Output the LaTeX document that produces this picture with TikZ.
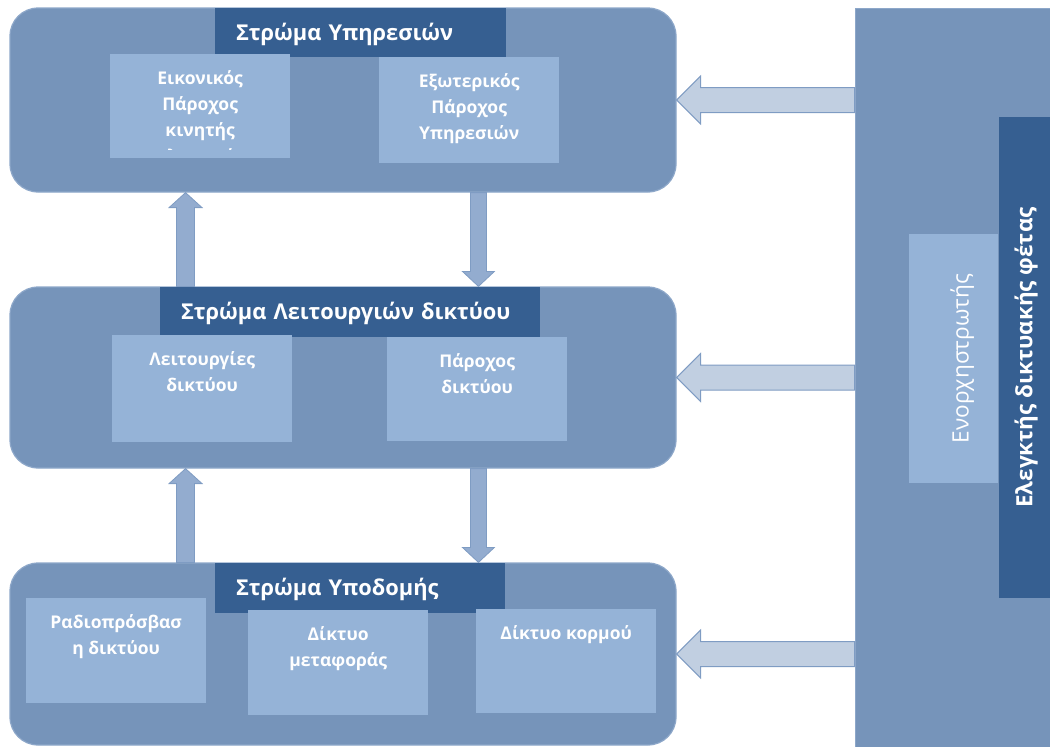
\documentclass[tikz,border=0pt]{standalone}
\usepackage{fontspec}
\setmainfont{Open Sans}
\usetikzlibrary{calc}

\definecolor{layerblue}{HTML}{7694BA}
\definecolor{layeredge}{HTML}{8DA7C9}
\definecolor{titleblue}{HTML}{365F91}
\definecolor{cellblue}{HTML}{95B3D7}
\definecolor{harrowfill}{HTML}{C1CFE1}
\definecolor{varrowfill}{HTML}{93ACCF}
\definecolor{arrowedge}{HTML}{7F9CC3}

% top-aligned, centred text block of a cell
\newcommand\cellbody[2]{\parbox[c][#1][t]{180pt}{\centering\vspace*{16pt}#2}}

% block arrow: style, start, tip, shaft half-width, head half-width, head length
\newcommand\blockarrow[6]{%
  \path ($(#3)!#6!(#2)$) coordinate (ba-base);
  \draw[#1] ($(#2)!#4!90:(#3)$) -- ($(ba-base)!#4!90:(#3)$)
    -- ($(ba-base)!#5!90:(#3)$) -- (#3) -- ($(ba-base)!#5!-90:(#3)$)
    -- ($(ba-base)!#4!-90:(#3)$) -- ($(#2)!#4!-90:(#3)$) -- cycle;}

\tikzset{
  layer/.style={rectangle, rounded corners=28pt, fill=layerblue, draw=layeredge,
    line width=1.2pt, minimum width=666pt, inner sep=0pt},
  panel/.style={rectangle, fill=layerblue, draw=layeredge, line width=1pt, inner sep=0pt},
  title/.style={rectangle, fill=titleblue, inner xsep=21pt, inner ysep=0pt, text=white,
    font=\fontsize{21.8}{26}\selectfont\bfseries, align=left, text height=15.5pt, text depth=0pt},
  cell/.style={rectangle, fill=cellblue, inner sep=0pt, anchor=north west, text=white,
    font=\fontsize{17.5}{26}\selectfont\bfseries},
  harrow/.style={fill=harrowfill, draw=arrowedge, line width=1pt, line join=miter},
  varrow/.style={fill=varrowfill, draw=arrowedge, line width=0.8pt, line join=miter},
}

\begin{document}
\begin{tikzpicture}[x=1pt, y=-1pt]
\useasboundingbox (0,0) rectangle (1050,747);

% the three layers
\node[layer, minimum height=184pt] (svc) at (343,100) {};
\node[layer, minimum height=181pt] (fun) at (343,377.5) {};
\node[layer, minimum height=182pt] (inf) at (343,654) {};

% slice controller column
\node[panel, minimum width=196pt, minimum height=740pt] (ctrl) at (953,378) {};
\node[rectangle, fill=cellblue, inner sep=0pt, rotate=90, minimum width=249pt,
  minimum height=89pt, text=white, font=\fontsize{22.6}{28}\selectfont,
  text height=30pt, text depth=0pt] (orch) at (953.5,358.5) {Ενορχηστρωτής};
\node[title, rotate=90, inner xsep=0pt, minimum width=481pt, minimum height=51pt,
  align=center, font=\fontsize{22.4}{28}\selectfont\bfseries] (slice) at (1024.5,357.5)
  {Ελεγκτής δικτυακής φέτας};

% layer titles
\node[title, text width=249pt, minimum height=49pt] (t1) at (360.5,32.5) {Στρώμα Υπηρεσιών};
\node[title, text width=338pt, minimum height=50pt] (t2) at (350,312) {Στρώμα Λειτουργιών δικτύου};
\node[title, text width=248pt, minimum height=50pt] (t3) at (360,588) {Στρώμα Υποδομής};

% service layer cells
\node[cell, minimum width=180pt, minimum height=104pt] (c1) at (110,54) {};
\begin{scope}
  \clip (c1.north west) rectangle ([yshift=9pt]c1.south east);
  \node[cell] at (c1.north west) {\cellbody{104pt}{Εικονικός\\Πάροχος\\κινητής\\τηλεφωνίας}};
\end{scope}
\node[cell] (c2) at (379,57) {\cellbody{106pt}{Εξωτερικός\\Πάροχος\\Υπηρεσιών}};

% network function layer cells
\node[cell] (c4) at (112,335) {\cellbody{107pt}{Λειτουργίες\\δικτύου}};
\node[cell] (c5) at (387,337) {\cellbody{104pt}{Πάροχος\\δικτύου}};

% infrastructure layer cells
\node[cell] (c6) at (26,598) {\cellbody{105pt}{Ραδιοπρόσβασ\\η δικτύου}};
\node[cell] (c7) at (248,610) {\cellbody{105pt}{Δίκτυο\\μεταφοράς}};
\node[cell] (c8) at (476,609) {\cellbody{104pt}{Δίκτυο κορμού}};

% vertical arrows between layers
\coordinate (u1s) at ($(fun.north west)!0.264!(fun.north east)$);
\coordinate (u1e) at (u1s |- svc.south);
\coordinate (d1s) at ($(svc.south west)!0.703!(svc.south east)$);
\coordinate (d1e) at (d1s |- fun.north);
\coordinate (u2s) at ($(inf.north west)!0.264!(inf.north east)$);
\coordinate (u2e) at (u2s |- fun.south);
\coordinate (d2s) at ($(fun.south west)!0.703!(fun.south east)$);
\coordinate (d2e) at (d2s |- inf.north);
\blockarrow{varrow}{u1s}{u1e}{9pt}{16.5pt}{15pt}
\blockarrow{varrow}{d1s}{d1e}{8pt}{16pt}{15pt}
\blockarrow{varrow}{u2s}{u2e}{9pt}{16.5pt}{15pt}
\blockarrow{varrow}{d2s}{d2e}{8pt}{16pt}{15pt}

% arrows from the controller column into each layer
\coordinate (h1s) at (ctrl.west |- svc.east);
\coordinate (h2s) at (ctrl.west |- fun.east);
\coordinate (h3s) at (ctrl.west |- inf.east);
\blockarrow{harrow}{h1s}{svc.east}{12.5pt}{24pt}{24pt}
\blockarrow{harrow}{h2s}{fun.east}{12.5pt}{24pt}{24pt}
\blockarrow{harrow}{h3s}{inf.east}{12.5pt}{24pt}{24pt}
\end{tikzpicture}
\end{document}
